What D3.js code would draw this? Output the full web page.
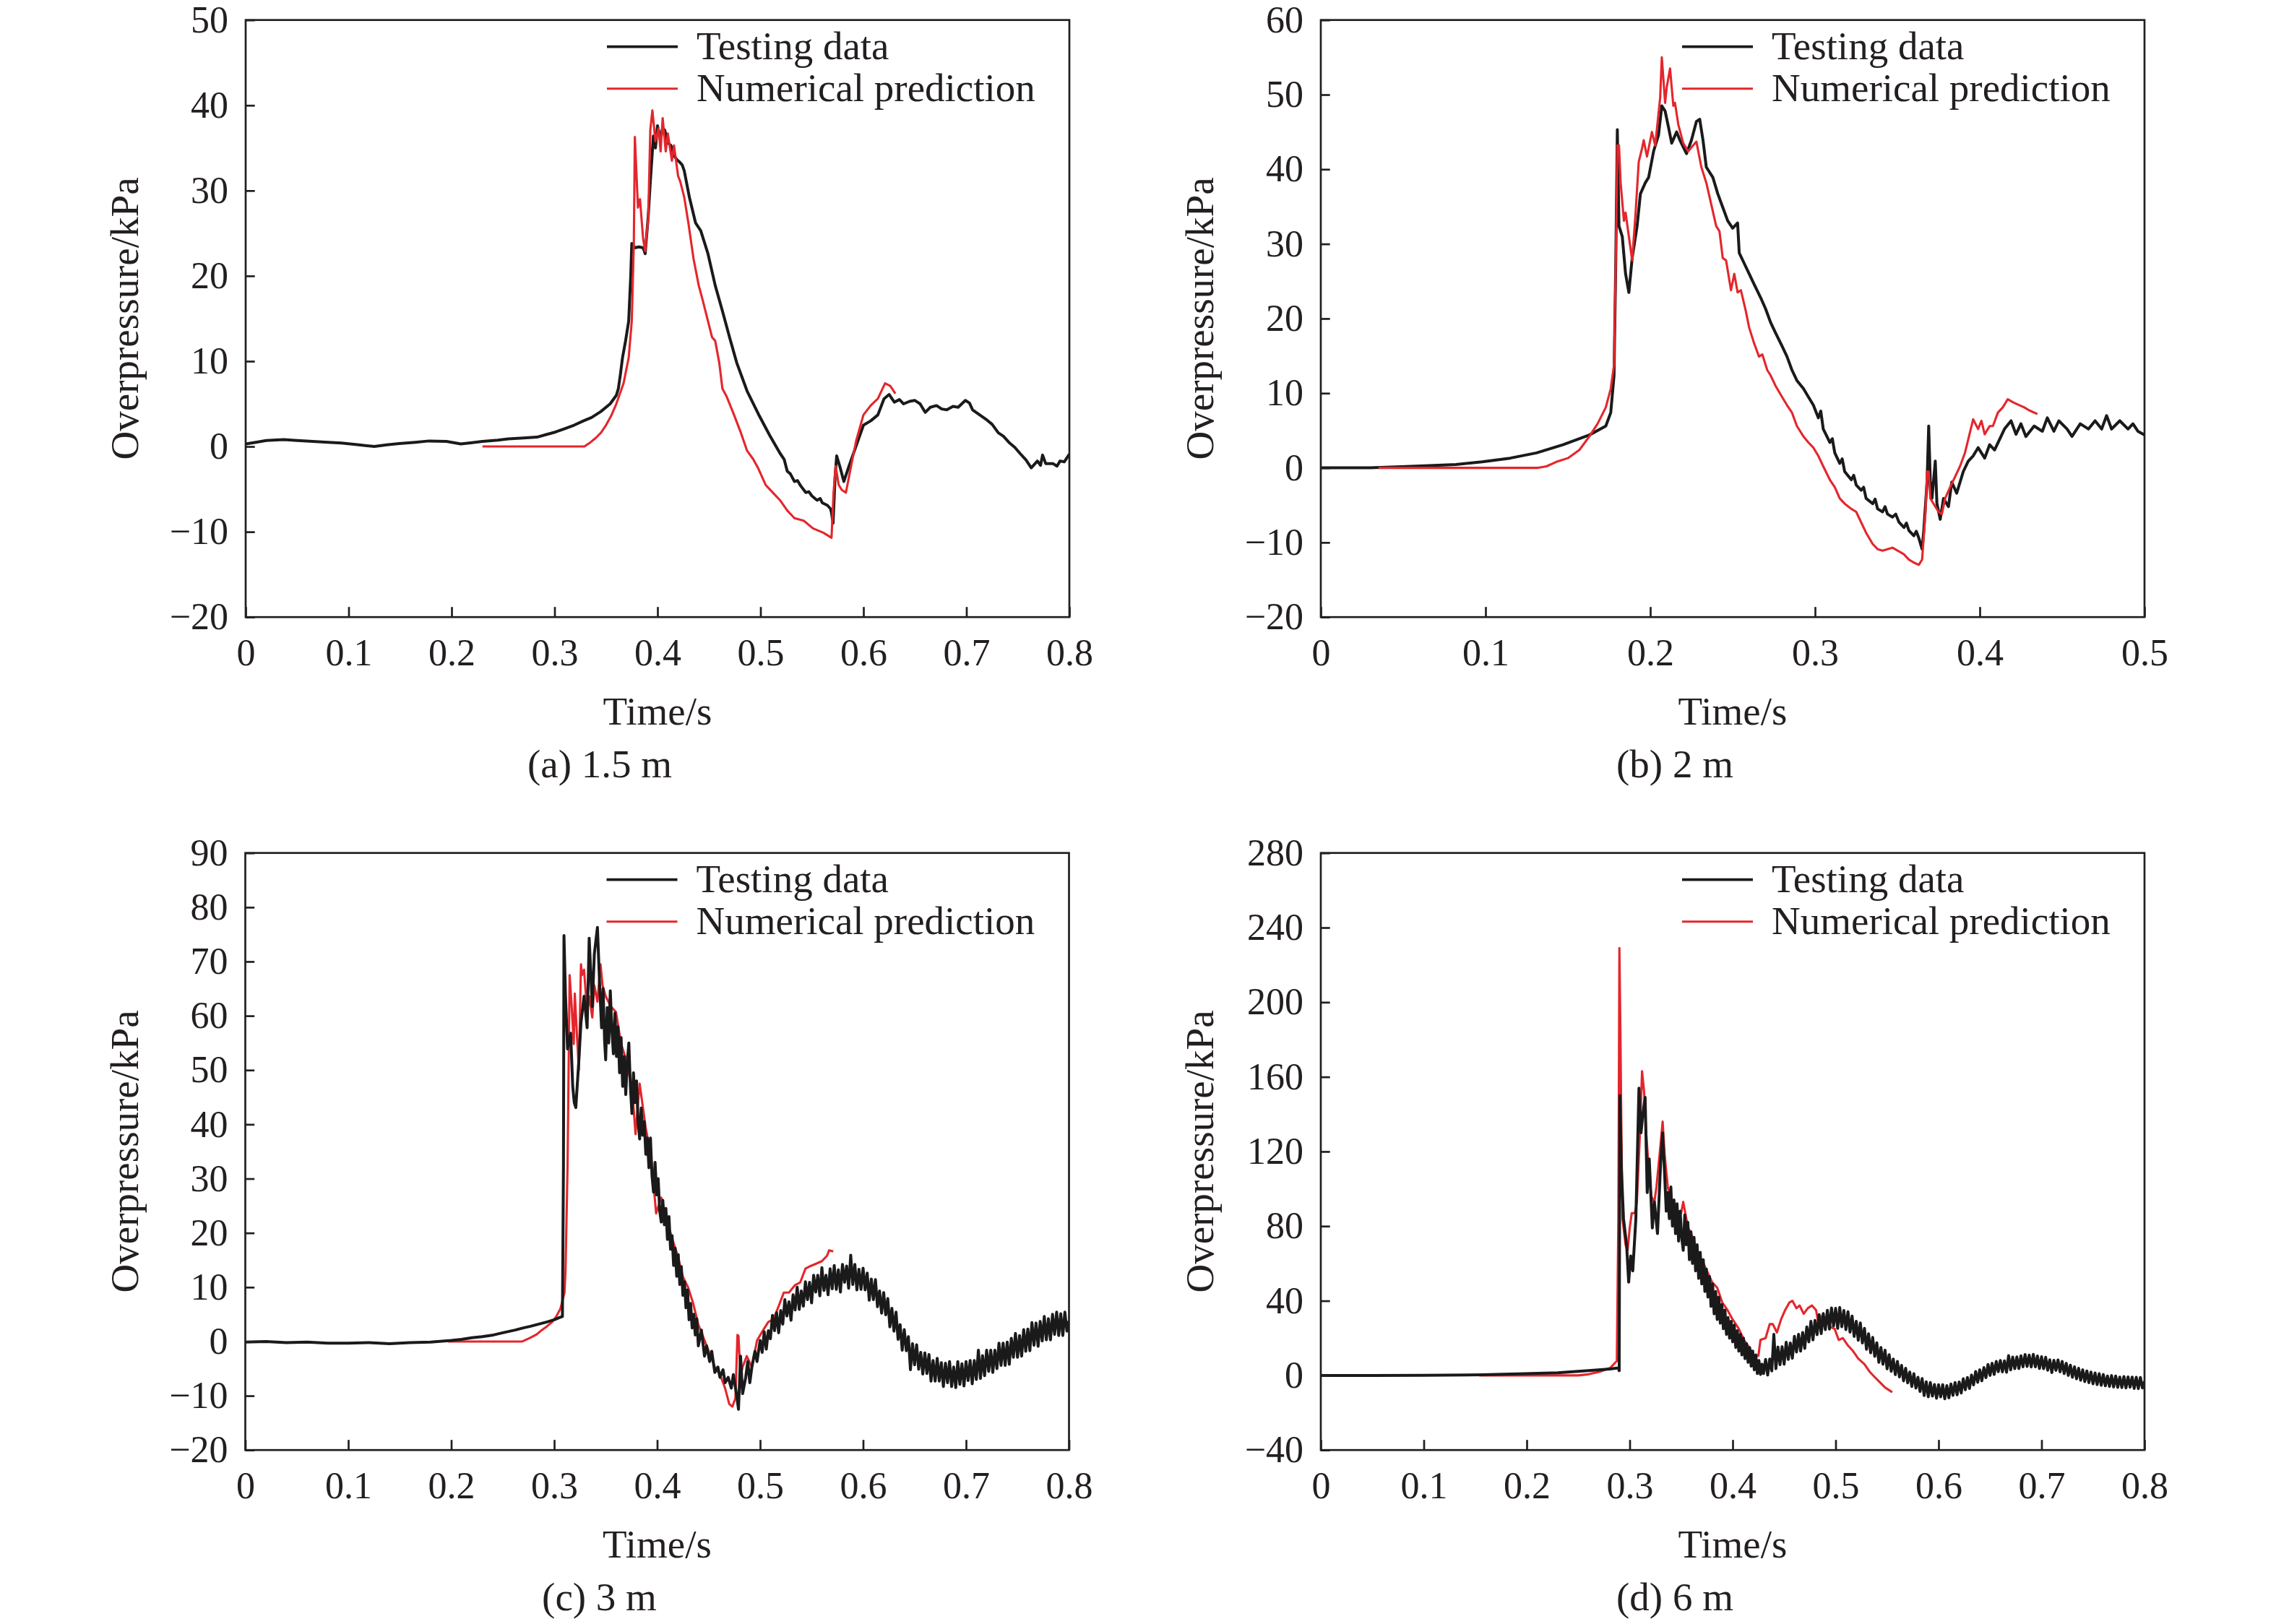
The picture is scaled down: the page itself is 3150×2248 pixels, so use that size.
<!DOCTYPE html>
<html>
<head>
<meta charset="utf-8">
<script src="https://cdn.jsdelivr.net/npm/d3@7"></script>
<style>
  html, body { margin: 0; padding: 0; background: #fff; }
  svg { display: block; }
  text { font-family: "Liberation Serif", "Times New Roman", serif; fill: #231f20; }
</style>
</head>
<body>
<svg id="fig"></svg>
<script>
// ---- tick labels ----
const xTicks8 = [0, 0.1, 0.2, 0.3, 0.4, 0.5, 0.6, 0.7, 0.8];
const xTicks5 = [0, 0.1, 0.2, 0.3, 0.4, 0.5];
const yTicksA = [-20, -10, 0, 10, 20, 30, 40, 50];
const yTicksB = [-20, -10, 0, 10, 20, 30, 40, 50, 60];
const yTicksC = [-20, -10, 0, 10, 20, 30, 40, 50, 60, 70, 80, 90];
const yTicksD = [-40, 0, 40, 80, 120, 160, 200, 240, 280];

const seriesNames = ["Testing data", "Numerical prediction"];

// ---- (a) 1.5 m : [time s, overpressure kPa] ----
const testA = [[0,0.3],[0.01,0.5],[0.02,0.7],[0.037,0.8],[0.05,0.7],[0.065,0.6],[0.08,0.5],[0.093,0.4],[0.11,0.2],[0.125,0.0],[0.137,0.2],[0.149,0.35],[0.165,0.5],[0.178,0.65],[0.195,0.6],[0.209,0.3],[0.22,0.45],[0.23,0.6],[0.245,0.75],[0.255,0.9],[0.27,1.0],[0.283,1.1],[0.292,1.4],[0.301,1.7],[0.31,2.1],[0.319,2.5],[0.328,3.0],[0.336,3.4],[0.345,4.1],[0.354,5.0],[0.36,6.0],[0.362,6.8],[0.364,8.5],[0.366,10.4],[0.369,12.4],[0.372,14.7],[0.374,20],[0.375,23.8],[0.378,23.3],[0.382,23.4],[0.386,23.3],[0.388,22.6],[0.391,27],[0.393,31],[0.396,36.4],[0.398,35],[0.4,37.6],[0.403,36.1],[0.405,37.3],[0.407,37.1],[0.41,35.6],[0.413,35.3],[0.416,34.1],[0.419,33.6],[0.421,33.4],[0.424,33.0],[0.426,32.3],[0.431,29.2],[0.437,26.2],[0.442,25.3],[0.449,22.6],[0.456,18.9],[0.463,15.9],[0.47,12.8],[0.477,9.8],[0.487,6.5],[0.498,3.8],[0.509,1.3],[0.519,-0.8],[0.523,-1.5],[0.526,-2.9],[0.529,-3.2],[0.533,-4.1],[0.536,-4.0],[0.539,-4.6],[0.544,-5.4],[0.547,-5.3],[0.55,-5.8],[0.555,-6.3],[0.558,-6.1],[0.56,-6.6],[0.565,-6.9],[0.568,-7.3],[0.569,-7.8],[0.5705,-9.0],[0.5725,-3.5],[0.574,-1.1],[0.577,-2.3],[0.581,-4.1],[0.586,-2.3],[0.593,0.1],[0.6,2.5],[0.607,3.0],[0.614,3.7],[0.62,5.6],[0.625,6.1],[0.63,5.2],[0.635,5.5],[0.639,5.0],[0.645,5.3],[0.65,5.4],[0.655,5.0],[0.66,4.0],[0.665,4.6],[0.671,4.8],[0.676,4.4],[0.681,4.3],[0.687,4.7],[0.692,4.6],[0.699,5.4],[0.703,5.1],[0.706,4.3],[0.713,3.7],[0.72,3.1],[0.725,2.6],[0.731,1.6],[0.736,1.2],[0.742,0.4],[0.747,-0.1],[0.752,-0.8],[0.758,-1.6],[0.763,-2.5],[0.769,-1.7],[0.772,-2.2],[0.774,-1.0],[0.777,-2.0],[0.784,-2.0],[0.788,-2.3],[0.791,-1.7],[0.795,-1.8],[0.8,-0.9]];
const numA = [[0.23,0],[0.329,0],[0.335,0.5],[0.34,1.0],[0.345,1.6],[0.35,2.5],[0.355,3.6],[0.36,5.0],[0.367,7.4],[0.372,10.4],[0.375,14.7],[0.377,23.8],[0.378,36.3],[0.381,28],[0.383,29],[0.386,24.4],[0.388,22.9],[0.391,26.8],[0.393,37.1],[0.395,39.4],[0.398,35.8],[0.401,37.3],[0.403,34.6],[0.405,38.5],[0.408,34.6],[0.41,36.7],[0.414,33.5],[0.416,35.3],[0.42,31.7],[0.422,31.1],[0.426,29.2],[0.43,26.2],[0.435,22],[0.44,18.9],[0.444,17.1],[0.449,14.7],[0.453,12.8],[0.456,12.4],[0.46,9.8],[0.463,6.8],[0.467,5.9],[0.474,3.8],[0.481,1.6],[0.487,-0.5],[0.493,-1.5],[0.498,-2.6],[0.505,-4.5],[0.512,-5.4],[0.519,-6.3],[0.526,-7.5],[0.533,-8.4],[0.542,-8.7],[0.551,-9.6],[0.561,-10.1],[0.569,-10.7],[0.571,-5.4],[0.573,-2.3],[0.576,-4.5],[0.579,-5.1],[0.583,-5.4],[0.588,-2.3],[0.593,0.7],[0.6,3.7],[0.607,4.8],[0.614,5.6],[0.621,7.4],[0.626,7.1],[0.631,6.2]];

// ---- (b) 2 m ----
const testB = [[0,0],[0.03,0],[0.049,0.15],[0.066,0.3],[0.082,0.45],[0.098,0.8],[0.115,1.3],[0.131,2.0],[0.147,3.1],[0.163,4.4],[0.173,5.6],[0.176,7.4],[0.178,12.4],[0.179,26.7],[0.18,45.3],[0.181,32.4],[0.183,31.0],[0.185,26.0],[0.187,23.5],[0.189,28.1],[0.192,32.4],[0.194,36.7],[0.197,38.2],[0.199,38.9],[0.202,42.4],[0.205,44.6],[0.207,48.5],[0.209,47.8],[0.211,45.7],[0.213,43.5],[0.216,45],[0.218,43.9],[0.222,42.1],[0.225,43.9],[0.228,46.4],[0.23,46.7],[0.232,43.9],[0.234,40.3],[0.238,38.9],[0.241,36.7],[0.244,34.9],[0.247,33.1],[0.25,32.1],[0.253,32.8],[0.254,28.8],[0.257,27.4],[0.26,26.0],[0.263,24.6],[0.267,22.8],[0.27,21.3],[0.273,19.5],[0.276,18.1],[0.28,16.3],[0.283,14.9],[0.286,13.1],[0.289,11.7],[0.293,10.6],[0.296,9.5],[0.299,8.4],[0.302,6.7],[0.3035,7.6],[0.305,5.2],[0.309,3.4],[0.3105,3.9],[0.312,2.0],[0.315,0.6],[0.3165,1.2],[0.318,-0.5],[0.322,-1.6],[0.3235,-1.0],[0.325,-2.3],[0.328,-3.0],[0.3295,-2.6],[0.331,-4.1],[0.335,-4.8],[0.3365,-4.2],[0.338,-5.5],[0.341,-5.9],[0.3425,-5.2],[0.344,-6.2],[0.347,-6.6],[0.349,-6.2],[0.351,-7.3],[0.354,-8.0],[0.3555,-7.4],[0.357,-8.4],[0.36,-9.1],[0.3615,-8.5],[0.363,-9.4],[0.365,-10.9],[0.366,-8.4],[0.368,-1.9],[0.369,5.6],[0.37,-1.9],[0.371,-4.1],[0.373,0.9],[0.374,-4.8],[0.376,-6.9],[0.378,-4.1],[0.381,-5.2],[0.383,-1.9],[0.386,-3.4],[0.39,-0.5],[0.393,0.9],[0.396,1.6],[0.399,2.7],[0.403,1.3],[0.406,3.1],[0.409,2.4],[0.412,3.8],[0.415,5.2],[0.419,6.3],[0.422,4.5],[0.425,5.9],[0.428,4.2],[0.433,5.6],[0.438,4.9],[0.441,6.7],[0.445,4.9],[0.448,6.3],[0.453,5.2],[0.456,4.2],[0.461,5.9],[0.466,5.2],[0.47,6.3],[0.474,5.2],[0.477,7.0],[0.48,5.2],[0.485,6.3],[0.49,5.2],[0.493,5.9],[0.496,4.9],[0.5,4.4]];
const numB = [[0.035,0],[0.132,0],[0.137,0.2],[0.143,0.8],[0.15,1.3],[0.157,2.4],[0.163,4.2],[0.168,5.9],[0.173,8.1],[0.176,10.6],[0.178,13.8],[0.179,26.7],[0.18,43.2],[0.181,43.2],[0.182,38.2],[0.184,33.1],[0.185,34.2],[0.187,31.0],[0.189,27.8],[0.191,33.9],[0.193,41.0],[0.195,42.8],[0.196,43.9],[0.198,41.7],[0.201,45.0],[0.203,43.2],[0.206,49.6],[0.207,55.0],[0.209,48.9],[0.21,51.0],[0.212,53.5],[0.214,48.5],[0.215,48.9],[0.217,46.0],[0.22,43.5],[0.223,42.4],[0.226,43.2],[0.228,43.7],[0.231,40.3],[0.234,38.2],[0.237,35.3],[0.24,32.4],[0.242,31.7],[0.244,28.1],[0.246,27.8],[0.249,23.8],[0.251,26.0],[0.253,23.5],[0.255,23.8],[0.258,21.0],[0.26,18.8],[0.263,16.7],[0.266,14.9],[0.268,15.2],[0.271,13.1],[0.273,12.4],[0.276,11.0],[0.28,9.5],[0.283,8.4],[0.286,7.4],[0.289,5.6],[0.293,4.2],[0.296,3.4],[0.299,2.7],[0.302,1.6],[0.305,0.2],[0.309,-1.6],[0.312,-2.6],[0.315,-4.1],[0.318,-4.8],[0.322,-5.5],[0.325,-5.9],[0.328,-7.3],[0.331,-8.7],[0.335,-10.2],[0.338,-10.9],[0.341,-11.1],[0.344,-10.9],[0.347,-10.7],[0.351,-11.2],[0.354,-11.6],[0.357,-12.3],[0.36,-12.7],[0.363,-13.0],[0.365,-12.3],[0.367,-6.2],[0.368,-0.5],[0.369,-0.5],[0.37,-4.1],[0.373,-5.2],[0.375,-5.9],[0.377,-6.2],[0.379,-4.1],[0.382,-2.6],[0.385,-1.2],[0.388,0.2],[0.391,2.0],[0.393,3.8],[0.396,6.5],[0.399,5.2],[0.401,6.3],[0.403,4.5],[0.406,5.6],[0.408,5.6],[0.411,7.4],[0.414,8.1],[0.417,9.2],[0.42,8.8],[0.424,8.4],[0.427,8.1],[0.43,7.7],[0.435,7.2]];

// ---- (c) 3 m ----
const testC = [[0,-0.1],[0.02,0.0],[0.04,-0.2],[0.06,-0.1],[0.08,-0.3],[0.1,-0.3],[0.12,-0.2],[0.14,-0.4],[0.16,-0.2],[0.18,-0.1],[0.2,0.2],[0.21,0.4],[0.22,0.7],[0.23,0.9],[0.241,1.2],[0.25,1.6],[0.262,2.1],[0.27,2.5],[0.277,2.8],[0.285,3.2],[0.293,3.6],[0.3,4.0],[0.305,4.4],[0.308,4.6],[0.309,32.4],[0.3095,74.8],[0.311,63.6],[0.313,53.9],[0.316,56.8],[0.318,47.0],[0.3195,44],[0.321,43.1],[0.324,51.9],[0.326,58.7],[0.329,63.6],[0.332,57.8],[0.334,74.3],[0.337,61.7],[0.339,71.4],[0.342,76.3],[0.344,66.5],
  [0.346,57.8],[0.3475,65.0],[0.349,55.2],[0.35,51.9],[0.3515,61.5],[0.353,55.0],[0.3545,64.6],[0.356,57.5],[0.3575,53.0],[0.359,60.5],[0.3605,52.5],[0.362,58.0],[0.3635,49.5],[0.365,56.0],[0.3665,47.0],[0.368,52.5],[0.3695,45.5],[0.371,51.5],[0.3725,55.0],[0.374,47.0],[0.3755,42.0],[0.377,49.5],[0.3785,44.0],[0.38,48.0],[0.3815,40.5],[0.383,37.3],[0.3845,43.0],[0.386,38.0],[0.3875,40.5],[0.389,34.5],[0.3905,37.5],[0.392,32.0],[0.3935,37.5],[0.395,30.5],[0.3965,27.5],[0.398,33.0],[0.3995,27.0],[0.401,30.0],[0.4025,24.0],[0.404,22.0],[0.4055,26.0],[0.407,21.5],[0.4085,24.5],[0.41,18.8],[0.4115,23.0],[0.413,17.0],[0.4145,19.5],[0.416,14.0],[0.4175,17.2],[0.419,12.0],[0.4205,16.0],[0.422,10.5],[0.4235,13.8],[0.425,8.5],[0.4265,11.0],[0.428,6.2],[0.4295,9.5],[0.431,4.0],[0.4325,7.0],[0.434,2.5],[0.4355,5.0],[0.437,1.2],[0.4385,4.2],
  [0.44,-0.8],[0.443,2.1],[0.446,-2.7],[0.448,-0.8],[0.451,-3.7],[0.453,-1.8],[0.456,-5.7],[0.459,-4.7],[0.461,-6.6],[0.464,-5.2],[0.466,-7.6],[0.469,-6.6],[0.472,-8.6],[0.474,-6.1],[0.477,-9.6],[0.479,-12.5],[0.481,-2.7],[0.483,-9.6],[0.486,-6.6],[0.488,-3.7],[0.49,-7.6],[0.492,-4.7],[0.495,-1.8],[0.497,-3.7],
  [0.5,0.2],[0.502,-2.0],[0.504,1.8],[0.506,-1.4],[0.508,2.0],[0.51,0.5],[0.512,4.8],[0.514,2.0],[0.516,5.3],[0.518,1.6],[0.52,5.7],[0.522,3.2],[0.524,7.7],[0.526,4.7],[0.528,7.3],[0.53,3.9],[0.532,8.6],[0.534,5.8],[0.536,10.0],[0.538,5.9],[0.54,9.3],[0.542,6.5],[0.544,11.0],[0.546,7.7],[0.548,10.9],[0.55,7.1],[0.552,12.2],[0.554,9.1],[0.556,12.2],[0.558,8.4],[0.56,13.6],[0.562,9.4],[0.564,12.2],[0.566,8.6],[0.568,13.4],[0.57,9.7],[0.572,14.0],[0.574,9.6],[0.576,13.2],[0.578,9.1],[0.58,14.2],[0.582,10.9],[0.584,13.9],[0.586,9.8],[0.588,15.9],[0.59,10.5],[0.592,14.2],[0.594,9.5],[0.596,13.3],[0.598,9.6],[0.6,13.5],[0.602,9.5],[0.604,12.6],[0.606,7.6],[0.608,11.5],[0.61,7.7],[0.612,11.4],[0.614,6.4],[0.616,9.3],[0.618,5.2],[0.62,9.0],[0.622,4.9],[0.624,7.9],[0.626,2.7],[0.628,6.1],[0.63,1.9],[0.632,5.4],[0.634,0.4],[0.636,3.1],[0.638,-1.6],[0.64,2.2],[0.642,-1.7],[0.644,0.9],[0.646,-5.2],[0.648,-0.4],[0.65,-4.3],[0.652,-0.6],[0.654,-5.1],[0.656,-2.0],[0.658,-6.0],[0.66,-2.1],[0.662,-5.9],[0.664,-2.4],[0.666,-7.3],[0.668,-3.5],[0.67,-7.3],[0.672,-3.1],[0.674,-7.3],[0.676,-3.9],[0.678,-8.3],[0.68,-4.0],[0.682,-7.6],[0.684,-3.7],[0.686,-8.3],[0.688,-4.7],[0.69,-8.5],[0.692,-3.7],[0.694,-7.9],[0.696,-4.1],[0.698,-8.2],[0.7,-3.7],[0.702,-7.2],[0.704,-3.5],[0.706,-7.8],[0.708,-3.5],[0.71,-7.0],[0.712,-1.6],[0.714,-6.8],[0.716,-2.6],[0.718,-6.3],[0.72,-1.6],[0.722,-5.5],[0.724,-1.6],[0.726,-5.7],[0.728,-1.6],[0.73,-5.0],[0.732,-0.3],[0.734,-4.4],[0.736,-0.3],[0.738,-4.4],[0.74,-0.1],[0.742,-4.2],[0.744,0.6],[0.746,-2.9],[0.748,1.5],[0.75,-2.9],[0.752,1.1],[0.754,-2.7],[0.756,2.2],[0.758,-1.8],[0.76,2.3],[0.762,-1.7],[0.764,3.5],[0.766,-0.7],[0.768,3.4],[0.77,-0.9],[0.772,3.7],[0.774,0.1],[0.776,4.6],[0.778,0.3],[0.78,4.2],[0.782,0.3],[0.784,5.0],[0.786,1.3],[0.788,5.4],[0.79,1.1],[0.792,5.1],[0.794,1.1],[0.796,5.4],[0.798,1.9],[0.8,3.8]];
const numC = [[0.197,0],[0.269,0],[0.277,0.7],[0.283,1.3],[0.288,2.1],[0.293,2.8],[0.298,3.6],[0.302,4.6],[0.306,6.0],[0.31,9.0],[0.311,12.9],[0.313,32.4],[0.315,67.5],[0.317,61.7],[0.319,54.8],[0.32,64.1],[0.322,56.8],[0.324,50.0],[0.326,69.5],[0.327,67.5],[0.329,68.5],[0.332,60.7],[0.334,63.6],[0.337,59.7],[0.339,65.6],[0.342,62.6],[0.345,69.5],[0.347,65.6],[0.35,63.6],[0.355,61.7],[0.36,60.7],[0.365,54.8],[0.37,51.9],[0.376,46.0],[0.379,38.2],[0.383,47.5],[0.389,39.2],[0.394,34.3],[0.399,23.6],[0.404,26.5],[0.409,22.6],[0.415,18.7],[0.42,15.8],[0.425,11.9],[0.43,10.0],[0.435,7.0],[0.44,3.1],[0.446,0.2],[0.451,-2.2],[0.456,-4.7],[0.461,-6.1],[0.466,-8.6],[0.47,-11.5],[0.473,-12.0],[0.476,-10.5],[0.478,1.2],[0.479,1.0],[0.481,-6.6],[0.483,-4.7],[0.487,-2.7],[0.492,-4.7],[0.497,0.2],[0.503,2.1],[0.508,3.6],[0.513,4.1],[0.518,6.5],[0.523,9.0],[0.528,9.0],[0.534,10.4],[0.539,10.9],[0.544,13.4],[0.549,13.9],[0.554,14.3],[0.56,14.8],[0.565,15.8],[0.567,16.8],[0.571,16.6]];

// ---- (d) 6 m ----
const testD = [[0,0],[0.05,0],[0.1,0.1],[0.157,0.3],[0.198,0.9],[0.23,1.4],[0.26,2.6],[0.281,3.4],[0.289,4.0],[0.2898,2.5],[0.2905,150],[0.292,110],[0.294,84],[0.297,70],[0.299,50],[0.301,64],[0.303,56],[0.306,84],[0.309,154],[0.311,130],[0.313,141],[0.315,149],[0.317,98],[0.319,116],[0.322,79],[0.324,93],[0.327,76],[0.33,113],[0.332,130],
  [0.334,107],[0.3355,88],[0.337,98],[0.3385,84],[0.34,101],[0.3415,80],[0.343,94],[0.3445,76],[0.346,92],[0.3475,72],[0.349,88],[0.3505,74],[0.352,67],[0.3535,86],[0.355,70],[0.3565,82],[0.358,62],[0.3595,77],[0.361,60],[0.3625,74],[0.364,56],[0.3655,70],[0.367,52],[0.3685,66],[0.37,49],[0.3715,62],[0.373,45],[0.3745,57],[0.376,42],[0.3775,53],[0.379,37],[0.3805,49],[0.382,33],[0.3835,45],[0.385,30],[0.3865,42],[0.388,28],[0.3895,38],[0.391,25],[0.3925,35],[0.394,22],[0.3955,31],[0.397,20],[0.3985,29],[0.4,18],[0.4015,27],[0.403,15],[0.4045,24],[0.406,13],[0.4075,22],[0.409,11],[0.4105,20],[0.412,9],[0.4135,17],[0.415,7],[0.4165,15],[0.418,5],[0.4195,13],[0.421,3],[0.4225,11],[0.424,1],[0.4255,8],[0.427,0.5],[0.4285,6],
  [0.43,1.0],[0.432,8.6],[0.434,0.2],[0.436,8.8],[0.438,2.4],[0.44,22.0],[0.442,3.6],[0.444,15.2],[0.446,5.8],[0.448,15.4],[0.45,6.0],[0.452,17.8],[0.454,8.6],[0.456,17.4],[0.458,9.2],[0.46,21.0],[0.462,12.5],[0.464,22.0],[0.466,13.0],[0.468,23.0],[0.47,14.5],[0.472,26.0],[0.474,18.0],[0.476,29.0],[0.478,19.0],[0.48,29.5],[0.482,21.8],[0.484,32.6],[0.486,22.4],[0.488,33.2],[0.49,24.5],[0.492,34.9],[0.494,24.8],[0.496,36.2],[0.498,26.6],[0.5,36.0],[0.502,25.2],[0.504,36.4],[0.506,26.1],[0.508,34.8],[0.51,24.5],[0.512,34.1],[0.514,23.2],[0.516,31.8],[0.518,20.9],[0.52,29.0],[0.522,18.8],[0.524,28.1],[0.526,17.4],[0.528,25.2],[0.53,14.0],[0.532,22.3],[0.534,12.1],[0.536,20.4],[0.538,10.2],[0.54,17.5],[0.542,7.0],[0.544,15.0],[0.546,6.0],[0.548,13.5],[0.55,3.5],[0.552,11.1],[0.554,2.2],[0.556,8.8],[0.558,0.4],[0.56,7.5],[0.562,-0.8],[0.564,5.4],[0.566,-2.9],[0.568,3.8],[0.57,-4.0],[0.572,1.8],[0.574,-5.9],[0.576,0.9],[0.578,-6.8],[0.58,-1.0],[0.582,-8.6],[0.584,-1.7],[0.586,-10.8],[0.588,-3.4],[0.59,-11.5],[0.592,-3.8],[0.594,-11.1],[0.596,-4.9],[0.598,-12.2],[0.6,-5.0],[0.602,-11.5],[0.604,-5.0],[0.606,-12.5],[0.608,-5.5],[0.61,-12.0],[0.612,-4.6],[0.614,-10.7],[0.616,-3.8],[0.618,-10.4],[0.62,-3.5],[0.622,-9.4],[0.624,-1.8],[0.626,-7.7],[0.628,-1.1],[0.63,-7.0],[0.632,0.2],[0.634,-5.1],[0.636,2.1],[0.638,-3.7],[0.64,3.0],[0.642,-2.9],[0.644,4.2],[0.646,-1.2],[0.648,5.9],[0.65,0.0],[0.652,6.5],[0.654,0.5],[0.656,7.5],[0.658,2.0],[0.66,8.0],[0.662,1.9],[0.664,7.8],[0.666,1.7],[0.668,10.6],[0.67,3.0],[0.672,9.8],[0.674,3.6],[0.676,9.9],[0.678,3.7],[0.68,10.5],[0.682,4.6],[0.684,11.2],[0.686,4.8],[0.688,10.9],[0.69,4.5],[0.692,11.3],[0.694,4.6],[0.696,10.4],[0.698,3.7],[0.7,10.0],[0.702,3.6],[0.704,9.7],[0.706,2.8],[0.708,8.4],[0.71,1.5],[0.712,8.1],[0.714,2.7],[0.716,8.3],[0.718,1.9],[0.72,7.5],[0.722,1.0],[0.724,6.5],[0.726,0.0],[0.728,5.5],[0.73,-1.0],[0.732,4.6],[0.734,-1.8],[0.736,3.8],[0.738,-2.6],[0.74,3.0],[0.742,-3.3],[0.744,2.4],[0.746,-3.9],[0.748,1.8],[0.75,-4.5],[0.752,1.3],[0.754,-4.9],[0.756,0.9],[0.758,-5.3],[0.76,0.5],[0.762,-5.6],[0.764,-0.3],[0.766,-5.9],[0.768,-0.1],[0.77,-6.2],[0.772,-0.3],[0.774,-6.4],[0.776,-0.9],[0.778,-6.5],[0.78,-0.6],[0.782,-6.7],[0.784,-0.8],[0.786,-6.3],[0.788,-0.9],[0.79,-7.0],[0.792,-1.0],[0.794,-7.1],[0.796,-1.1],[0.798,-6.7],[0.8,-3.2]];
const numD = [[0.154,0],[0.25,0],[0.26,0.6],[0.271,2],[0.281,4],[0.2875,7.7],[0.289,84],[0.29,229],[0.291,184],[0.292,127],[0.293,84],[0.296,70],[0.298,67],[0.3,79],[0.302,87],[0.305,87],[0.307,93],[0.31,130],[0.312,163],[0.314,152],[0.316,130],[0.319,107],[0.321,96],[0.324,93],[0.326,101],[0.329,118],[0.332,136],[0.334,118],[0.337,101],[0.339,96],[0.342,90],[0.345,91],[0.347,84],[0.35,87],[0.352,93],[0.355,84],[0.357,79],[0.362,73],[0.367,64],[0.37,62],[0.375,56],[0.38,50],[0.385,47],[0.39,39],[0.395,35],[0.4,30],[0.406,25],[0.411,19],[0.416,15],[0.421,10.5],[0.425,10.5],[0.427,19],[0.432,20],[0.436,27.5],[0.439,27.5],[0.443,23],[0.447,30],[0.451,35],[0.455,39],[0.458,40],[0.462,36],[0.465,37.5],[0.469,33],[0.473,36],[0.477,37.5],[0.481,35],[0.483,29],[0.487,32],[0.491,30],[0.495,26],[0.499,25],[0.503,19],[0.507,20],[0.512,16],[0.517,13],[0.522,9],[0.528,6],[0.533,2],[0.538,-0.9],[0.543,-3.7],[0.548,-6.5],[0.555,-9]];

const W = 3150, H = 2248;
const PW = 1140, PH = 826.5;
const INK = "#231f20";
const BLACK = "#1a1a1a";
const RED = "#e4262c";

const panels = [
  { key: "a", left: 340, top: 27.7, xMax: 0.8, xTicks: xTicks8, yTicks: yTicksA, test: testA, num: numA, caption: "(a) 1.5 m", redOnTop: true },
  { key: "b", left: 1828, top: 27.7, xMax: 0.5, xTicks: xTicks5, yTicks: yTicksB, test: testB, num: numB, caption: "(b) 2 m", redOnTop: true },
  { key: "c", left: 339.5, top: 1180.7, xMax: 0.8, xTicks: xTicks8, yTicks: yTicksC, test: testC, num: numC, caption: "(c) 3 m", redOnTop: false },
  { key: "d", left: 1828, top: 1180.7, xMax: 0.8, xTicks: xTicks8, yTicks: yTicksD, test: testD, num: numD, caption: "(d) 6 m", redOnTop: false }
];

const svg = d3.select("#fig").attr("width", W).attr("height", H);
svg.append("rect").attr("width", W).attr("height", H).attr("fill", "#fff");

const fmtX = (d) => (d === 0 ? "0" : d3.format(".1f")(d));
const fmtY = (d) => (d < 0 ? "\u2212" + Math.abs(d) : String(d));

panels.forEach((p) => {
  const yTicks = p.yTicks;
  const x = d3.scaleLinear().domain([0, p.xMax]).range([0, PW]);
  const y = d3.scaleLinear().domain([yTicks[0], yTicks[yTicks.length - 1]]).range([PH, 0]);

  const g = svg.append("g").attr("transform", `translate(${p.left},${p.top})`);

  g.append("clipPath")
    .attr("id", "clip-" + p.key)
    .append("rect")
    .attr("width", PW)
    .attr("height", PH);

  const line = d3.line().x((d) => x(d[0])).y((d) => y(d[1]));

  let series = [
    { data: p.test, color: BLACK, w: 4 },
    { data: p.num, color: RED, w: 3.1 }
  ];
  if (!p.redOnTop) series = series.reverse();

  g.append("g")
    .attr("clip-path", `url(#clip-${p.key})`)
    .selectAll("path")
    .data(series)
    .join("path")
    .attr("d", (s) => line(s.data))
    .attr("fill", "none")
    .attr("stroke", (s) => s.color)
    .attr("stroke-width", (s) => s.w)
    .attr("stroke-linejoin", "round");

  // axes, ticks pointing inward
  const yAxis = g.append("g")
    .call(d3.axisLeft(y).tickValues(yTicks).tickFormat(fmtY).tickSizeInner(-12.7).tickSizeOuter(0).tickPadding(24));
  const xAxis = g.append("g")
    .attr("transform", `translate(0,${PH})`)
    .call(d3.axisBottom(x).tickValues(p.xTicks).tickFormat(fmtX).tickSizeInner(-14).tickSizeOuter(0).tickPadding(30));

  [yAxis, xAxis].forEach((ax) => {
    ax.select(".domain").remove();
    ax.selectAll("line").attr("stroke", INK).attr("stroke-width", 2.7);
    ax.selectAll("text").attr("font-size", 52).attr("fill", INK).attr("font-family", "Liberation Serif");
  });

  g.append("rect")
    .attr("width", PW)
    .attr("height", PH)
    .attr("fill", "none")
    .attr("stroke", INK)
    .attr("stroke-width", 2.7);

  // axis titles
  g.append("text")
    .attr("transform", `translate(-149,${PH / 2}) rotate(-90)`)
    .attr("text-anchor", "middle")
    .attr("font-size", 55)
    .text("Overpressure/kPa");

  g.append("text")
    .attr("x", PW / 2)
    .attr("y", PH + 149)
    .attr("text-anchor", "middle")
    .attr("font-size", 55)
    .text("Time/s");

  g.append("text")
    .attr("x", PW / 2 - 80)
    .attr("y", PH + 222)
    .attr("text-anchor", "middle")
    .attr("font-size", 55)
    .text(p.caption);

  // legend
  const legend = g.append("g").selectAll("g")
    .data([
      { name: seriesNames[0], color: BLACK, w: 3.8 },
      { name: seriesNames[1], color: RED, w: 3.1 }
    ])
    .join("g")
    .attr("transform", (d, i) => `translate(0,${37 + i * 58})`);

  legend.append("line")
    .attr("x1", 500)
    .attr("x2", 598)
    .attr("stroke", (d) => d.color)
    .attr("stroke-width", (d) => d.w);

  legend.append("text")
    .attr("x", 624)
    .attr("y", 17)
    .attr("font-size", 55)
    .text((d) => d.name);
});
</script>
</body>
</html>
